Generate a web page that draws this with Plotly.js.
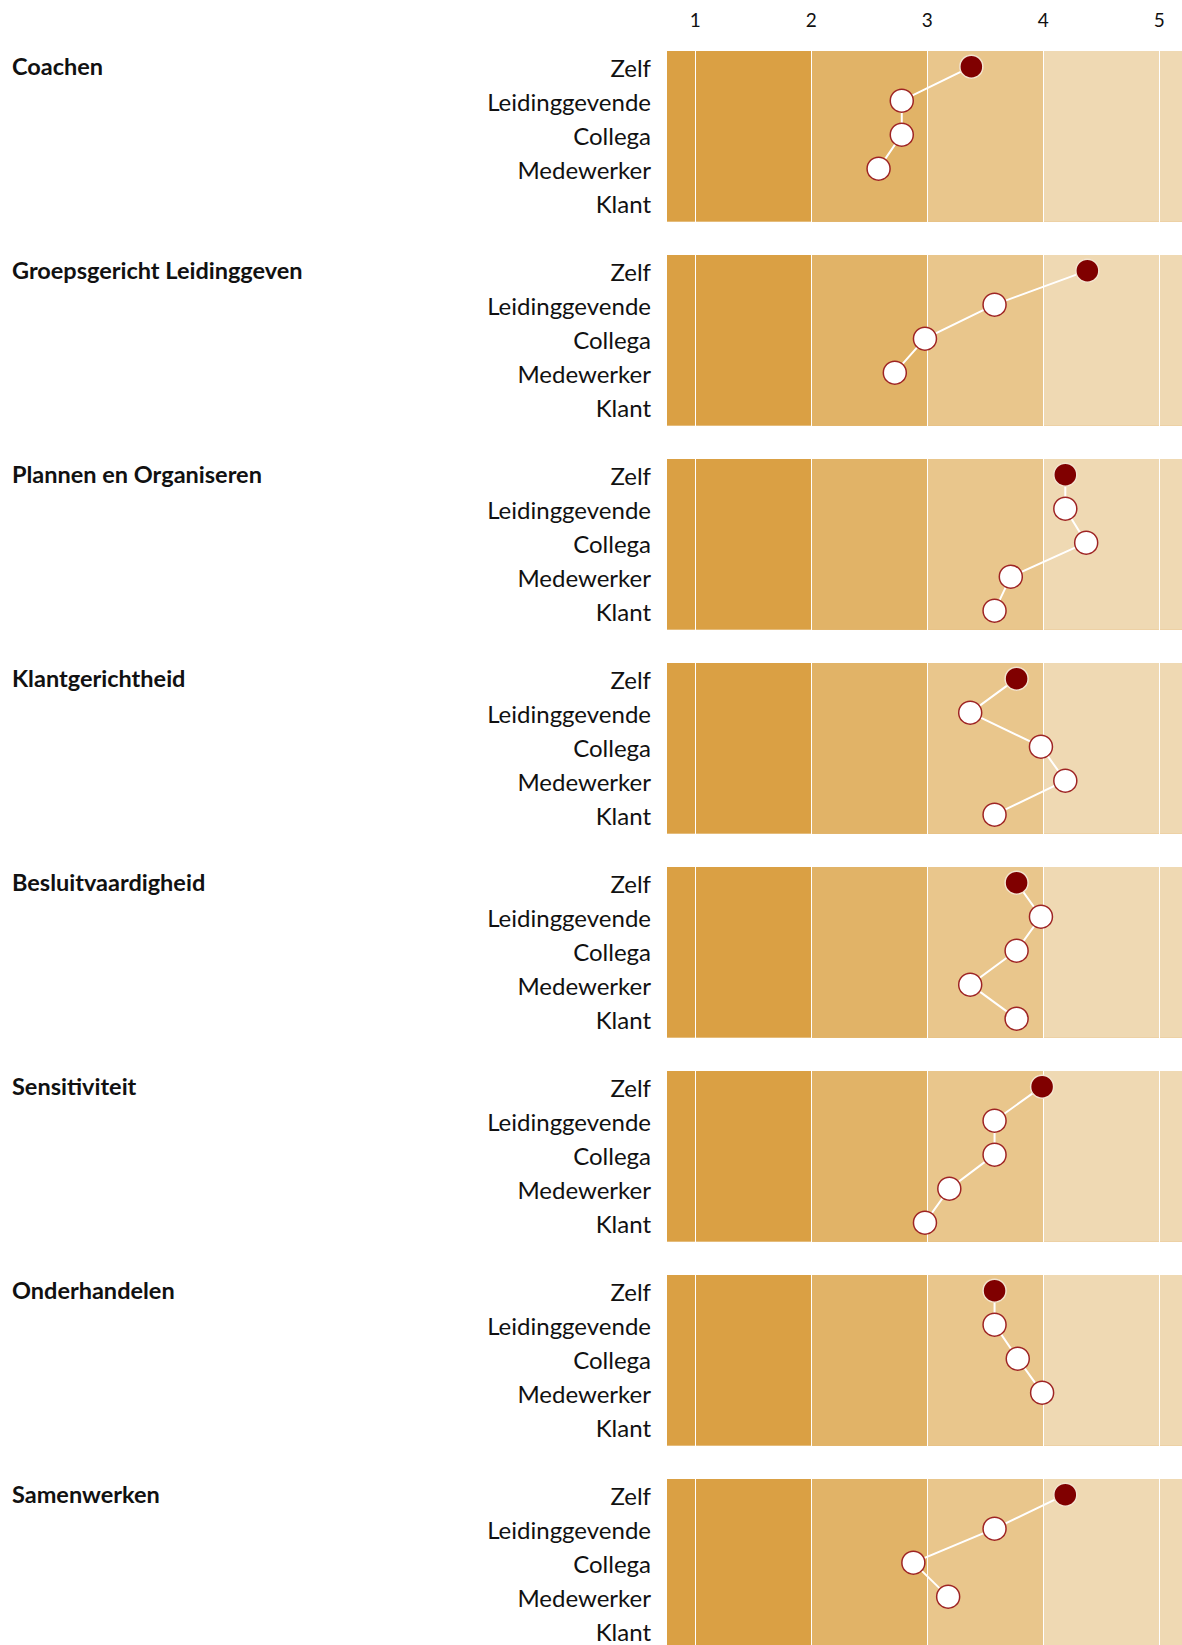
<!DOCTYPE html>
<html>
<head>
<meta charset="utf-8">
<script src="https://cdn.plot.ly/plotly-3.0.1.min.js"></script>
<style>
  html, body { margin: 0; padding: 0; background: #ffffff; overflow: hidden; }
  #wrap { width: 1182px; height: 1645px; overflow: hidden; }
  #chart { width: 1182px; height: 1650px; }
</style>
</head>
<body>
<div id="wrap"><div id="chart"></div></div>
<script>
// ---- data ----
const categories = ['Zelf', 'Leidinggevende', 'Collega', 'Medewerker', 'Klant'];
const competencies = ['Coachen', 'Groepsgericht Leidinggeven', 'Plannen en Organiseren',
  'Klantgerichtheid', 'Besluitvaardigheid', 'Sensitiviteit', 'Onderhandelen', 'Samenwerken'];
const coachen                  = [3.38, 2.78, 2.78, 2.58, null];
const groepsgerichtLeiding     = [4.38, 3.58, 2.98, 2.72, null];
const plannenEnOrganiseren     = [4.19, 4.19, 4.37, 3.72, 3.58];
const klantgerichtheid         = [3.77, 3.37, 3.98, 4.19, 3.58];
const besluitvaardigheid       = [3.77, 3.98, 3.77, 3.37, 3.77];
const sensitiviteit            = [3.99, 3.58, 3.58, 3.19, 2.98];
const onderhandelen            = [3.58, 3.58, 3.78, 3.99, null];
const samenwerken              = [4.19, 3.58, 2.88, 3.18, null];
const scaleTicks = [1, 2, 3, 4, 5];
const scaleTickLabels = ['1', '2', '3', '4', '5'];
const bandThresholds = [2, 3, 4];

const seriesList = [coachen, groepsgerichtLeiding, plannenEnOrganiseren, klantgerichtheid,
  besluitvaardigheid, sensitiviteit, onderhandelen, samenwerken];

// ---- styling / layout constants ----
const W = 1182, H = 1650;
const marginL = 667, marginT = 51;
const plotH = H - marginT;
const pitch = 204, panelH = 170.7;
const xRange = [0.756, 5.196];
const bandColors = ['#DAA044', '#E1B367', '#E9C68C', '#EFD9B3'];
const fontFam = 'Lato, "Open Sans", sans-serif';
const selfColor = '#800000';
const ringColor = '#9E2424';

const data = [];
const shapes = [];
const annotations = [];
const layout = {
  width: W, height: H,
  margin: {l: marginL, r: 0, t: marginT, b: 0, pad: 0},
  paper_bgcolor: '#ffffff',
  plot_bgcolor: bandColors[0],
  showlegend: false,
  font: {family: fontFam, color: '#111111'},
  xaxis: {
    anchor: 'y', side: 'top', range: xRange, autorange: false,
    tickvals: scaleTicks, ticktext: scaleTickLabels,
    showgrid: true, gridcolor: '#ffffff', gridwidth: 1,
    zeroline: false, showline: false, ticks: '',
    tickfont: {family: fontFam, size: 19, color: '#111111'},
    ticklabelstandoff: 19,
    fixedrange: true
  }
};

seriesList.forEach((vals, i) => {
  const yName = i === 0 ? 'y' : 'y' + (i + 1);
  const axKey = i === 0 ? 'yaxis' : 'yaxis' + (i + 1);
  const topPx = pitch * i;
  const d1 = 1 - topPx / plotH;
  const d0 = 1 - (topPx + panelH) / plotH;
  layout[axKey] = {
    domain: [Math.max(0, d0), d1], anchor: 'x',
    type: 'category', categoryorder: 'array', categoryarray: categories,
    range: [4.56, -0.46], autorange: false,
    showgrid: false, zeroline: false, showline: false, ticks: '',
    tickfont: {family: fontFam, size: 24, color: '#111111'},
    ticklabelstandoff: 15,
    ticklabelshift: -2,
    fixedrange: true
  };
  data.push({
    type: 'scatter', mode: 'lines+markers',
    x: vals, y: categories,
    xaxis: 'x', yaxis: yName,
    line: {color: '#ffffff', width: 2},
    marker: {
      size: 23,
      color: vals.map((v, k) => k === 0 ? selfColor : '#ffffff'),
      line: {color: vals.map((v, k) => k === 0 ? '#F3E4CF' : ringColor), width: 1.5}
    },
    hoverinfo: 'skip'
  });
  bandThresholds.forEach((t, k) => {
    shapes.push({
      type: 'rect', layer: 'below',
      xref: 'x', yref: yName + ' domain',
      x0: t, x1: k + 1 < bandThresholds.length ? bandThresholds[k + 1] : xRange[1],
      y0: 0, y1: 1,
      fillcolor: bandColors[k + 1], line: {width: 0}
    });
  });
  annotations.push({
    xref: 'paper', yref: yName,
    x: (10 - marginL) / (W - marginL), y: categories[0],
    xanchor: 'left', yanchor: 'middle', yshift: 1,
    text: '<b>' + competencies[i] + '</b>', showarrow: false,
    font: {family: fontFam, size: 23.5, color: '#111111'}
  });
});
layout.shapes = shapes;
layout.annotations = annotations;

Plotly.newPlot('chart', data, layout, {displayModeBar: false, staticPlot: true});
</script>
</body>
</html>
